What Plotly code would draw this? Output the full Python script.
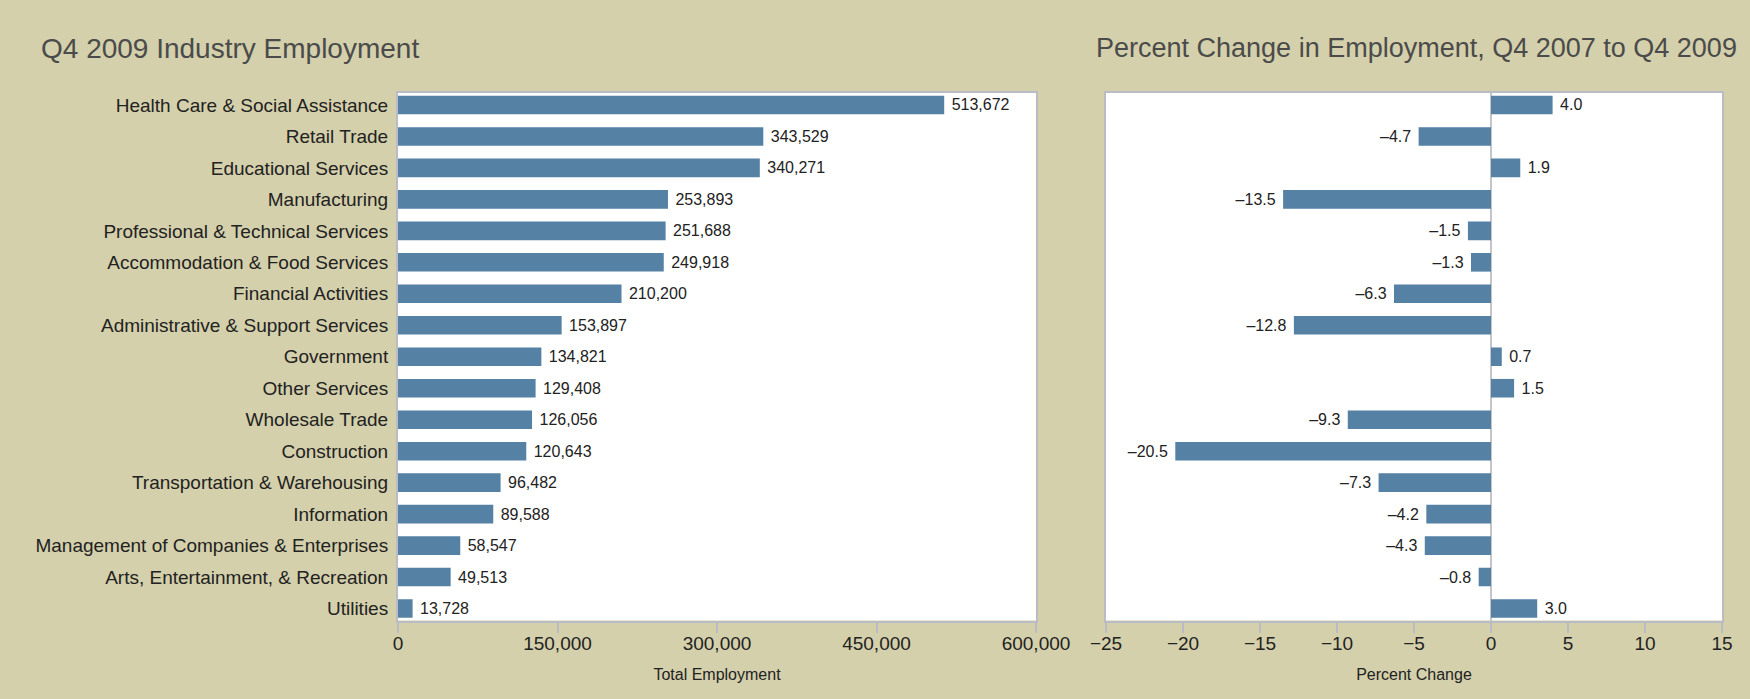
import plotly.graph_objects as go

# Industry employment, Q4 2009, and change since Q4 2007
industries = [
    "Health Care & Social Assistance",
    "Retail Trade",
    "Educational Services",
    "Manufacturing",
    "Professional & Technical Services",
    "Accommodation & Food Services",
    "Financial Activities",
    "Administrative & Support Services",
    "Government",
    "Other Services",
    "Wholesale Trade",
    "Construction",
    "Transportation & Warehousing",
    "Information",
    "Management of Companies & Enterprises",
    "Arts, Entertainment, & Recreation",
    "Utilities",
]
employment = [513672, 343529, 340271, 253893, 251688, 249918, 210200, 153897,
              134821, 129408, 126056, 120643, 96482, 89588, 58547, 49513, 13728]
pct_change = [4.0, -4.7, 1.9, -13.5, -1.5, -1.3, -6.3, -12.8,
              0.7, 1.5, -9.3, -20.5, -7.3, -4.2, -4.3, -0.8, 3.0]
emp_ticks = [0, 150000, 300000, 450000, 600000]
pct_ticks = [-25, -20, -15, -10, -5, 0, 5, 10, 15]

W, H = 1750, 699
BG = "#d4d0ab"
BAR = "#5581a5"
EDGE = "#b9bcc4"
FONT = "Liberation Sans, Arial, Helvetica, sans-serif"
NBSP = "\u00a0"

# value labels sit a little away from the bar end on the outside
emp_text = [NBSP + f"{v:,}" for v in employment]
pct_text = [(f"{v:.1f}".replace("-", "\u2013") + NBSP) if v < 0
            else (NBSP + f"{v:.1f}") for v in pct_change]

fig = go.Figure()
fig.add_trace(go.Bar(
    x=employment, y=industries, orientation="h",
    marker=dict(color=BAR, line=dict(width=0)),
    text=emp_text, textposition="outside", constraintext="none",
    textfont=dict(size=16, color="#222222", family=FONT),
    cliponaxis=False, hoverinfo="x+y", xaxis="x", yaxis="y",
))
fig.add_trace(go.Bar(
    x=pct_change, y=industries, orientation="h",
    marker=dict(color=BAR, line=dict(width=0)),
    text=pct_text, textposition="outside", constraintext="none",
    textfont=dict(size=16, color="#222222", family=FONT),
    cliponaxis=False, hoverinfo="x+y", xaxis="x2", yaxis="y2",
))

y_top = 1 - 93 / H
y_bot = 1 - 620.5 / H
cat_range = [len(industries) - 1 + 0.38, -0.38]

axis_common = dict(
    showline=True, linecolor=EDGE, linewidth=2, mirror=True,
    showgrid=False, ticks="outside", ticklen=10, tickwidth=2, tickcolor=EDGE,
    ticklabelstandoff=-5,
    tickfont=dict(size=19, color="#222222", family=FONT),
    title_font=dict(size=16, color="#222222", family=FONT),
    title_standoff=16, fixedrange=True, automargin=False,
)
cat_common = dict(
    domain=[y_bot, y_top], type="category", categoryorder="array",
    categoryarray=industries, range=cat_range, showline=True,
    linecolor=EDGE, linewidth=2, mirror=True, ticks="", showgrid=False,
    fixedrange=True, automargin=False,
)

fig.update_layout(
    width=W, height=H,
    margin=dict(l=0, r=0, t=0, b=0, autoexpand=False),
    paper_bgcolor=BG, plot_bgcolor="white",
    showlegend=False, bargap=0.41,
    font=dict(family=FONT, color="#222222"),
    xaxis=dict(domain=[398 / W, 1036 / W], range=[0, 600000],
               tickvals=emp_ticks, tickformat=",", zeroline=False,
               title_text="Total Employment", anchor="y", **axis_common),
    yaxis=dict(ticklabelstandoff=4,
               tickfont=dict(size=19, color="#222222", family=FONT),
               anchor="x", **cat_common),
    xaxis2=dict(domain=[1106 / W, 1722 / W], range=[-25, 15],
                tickvals=pct_ticks, zeroline=True, zerolinecolor="#c3c5cb",
                zerolinewidth=2, title_text="Percent Change", anchor="y2",
                **axis_common),
    yaxis2=dict(showticklabels=False, anchor="x2", **cat_common),
    annotations=[
        dict(text="Q4 2009 Industry Employment", xref="paper", yref="paper",
             x=39 / W, y=1 - 48 / H, xanchor="left", yanchor="middle",
             showarrow=False, font=dict(size=28, color="#4a4b4a", family=FONT)),
        dict(text="Percent Change in Employment, Q4 2007 to Q4 2009",
             xref="paper", yref="paper", x=1739 / W, y=1 - 48 / H,
             xanchor="right", yanchor="middle", showarrow=False,
             font=dict(size=27, color="#4a4b4a", family=FONT)),
    ],
)

fig.write_html("out.html", config={"displayModeBar": False})
